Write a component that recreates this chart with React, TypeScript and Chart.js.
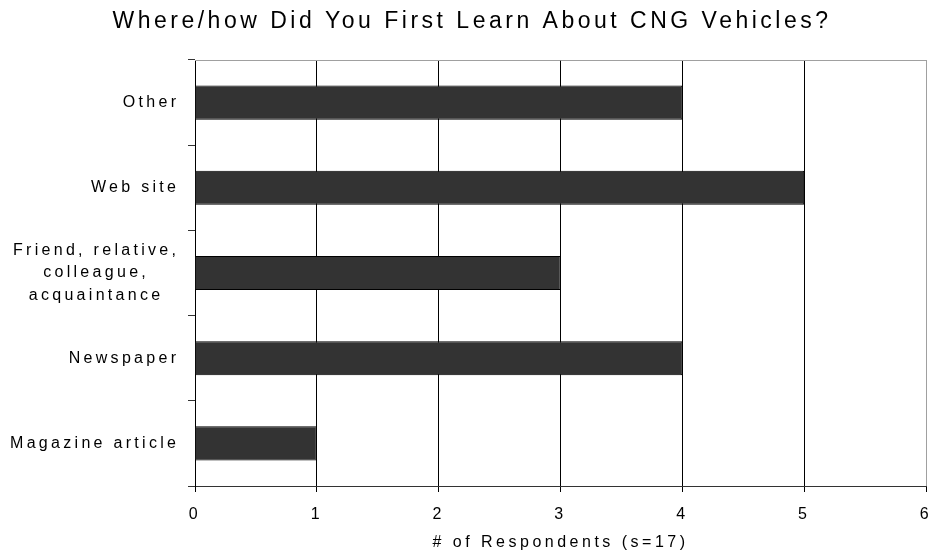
import React, { useEffect, useRef } from 'react';
import { Chart, registerables } from 'chart.js';

Chart.register(...registerables);

const FONT = '"Liberation Sans", Arial, Helvetica, sans-serif';

const chartTitle = 'Where/how Did You First Learn About CNG Vehicles?';
const axisTitle = '# of Respondents (s=17)';
const categories: (string | string[])[] = [
  'Other',
  'Web site',
  ['Friend, relative,', 'colleague,', 'acquaintance'],
  'Newspaper',
  'Magazine article',
];
const respondents = [4, 5, 3, 4, 1];
const xMin = 0;
const xMax = 6;
const xStep = 1;

const spacingPlugin = {
  id: 'letterSpacing',
  beforeLayout(chart: any) {
    chart.ctx.letterSpacing = '3.5px';
  },
  beforeDraw(chart: any) {
    chart.ctx.letterSpacing = '3.5px';
  },
};

const frameAndLabelsPlugin = {
  id: 'frameAndLabels',
  afterDraw(chart: any) {
    const ctx = chart.ctx as CanvasRenderingContext2D;
    const area = chart.chartArea;
    const yScale = chart.scales.y;
    ctx.save();
    // top border of plot area
    ctx.strokeStyle = '#a0a0a0';
    ctx.lineWidth = 1;
    ctx.beginPath();
    ctx.moveTo(area.left, Math.round(area.top) + 0.5);
    ctx.lineTo(area.right, Math.round(area.top) + 0.5);
    ctx.stroke();

    // category labels
    const sp = 3.3;
    ctx.font = `16px ${FONT}`;
    ctx.fillStyle = '#000';
    ctx.textBaseline = 'middle';
    ctx.textAlign = 'left';
    const right = area.left - 19;
    const lh = 22.5;
    categories.forEach((lab, i) => {
      const lines = Array.isArray(lab) ? lab : [lab];
      const cy = yScale.getPixelForTick(i);
      (ctx as any).letterSpacing = '0px';
      const widths = lines.map((l) => ctx.measureText(l).width + sp * (l.length - 1));
      const maxW = Math.max(...widths);
      (ctx as any).letterSpacing = sp + 'px';
      lines.forEach((l, j) => {
        const x = right - maxW + (maxW - widths[j]) / 2;
        const yy = cy + (j - (lines.length - 1) / 2) * lh;
        ctx.fillText(l, x, yy);
      });
    });
    (ctx as any).letterSpacing = '0px';
    ctx.restore();
  },
};

export default function App() {
  const ref = useRef<HTMLCanvasElement | null>(null);

  useEffect(() => {
    document.body.style.margin = '0';
    document.body.style.overflow = 'hidden';
    const canvas = ref.current;
    if (!canvas) return;
    const chart = new Chart(canvas, {
      type: 'bar',
      data: {
        labels: categories as any,
        datasets: [
          {
            data: respondents,
            backgroundColor: '#333333',
            borderColor: '#000000',
            borderWidth: 1,
            categoryPercentage: 1,
            barPercentage: 0.4,
          },
        ],
      },
      options: {
        indexAxis: 'y',
        animation: false,
        responsive: false,
        maintainAspectRatio: false,
        layout: { padding: { left: 12, right: 0, top: 0, bottom: 0 } },
        plugins: {
          legend: { display: false },
          tooltip: { enabled: false },
          title: {
            display: true,
            text: chartTitle,
            color: '#000',
            font: { family: FONT, size: 23, weight: 'normal', lineHeight: 1.2 },
            padding: { top: 8, bottom: 24.4 },
          },
        },
        scales: {
          x: {
            type: 'linear',
            min: xMin,
            max: xMax,
            ticks: {
              stepSize: xStep,
              color: '#000',
              font: { family: FONT, size: 16 },
              padding: 13,
            },
            grid: {
              color: (c: any) => (c.tick && c.tick.value === xMax ? '#a0a0a0' : '#000000'),
              tickColor: '#000000',
              tickLength: 6,
              lineWidth: 1,
            },
            border: { display: true, color: '#333333', width: 1 },
            title: {
              display: true,
              text: axisTitle,
              color: '#000',
              font: { family: FONT, size: 16, lineHeight: 1.2 },
              padding: { top: 0, bottom: 3 },
            },
            afterFit(scale: any) {
              scale.height = 69;
              scale.paddingLeft = 0;
              scale.paddingRight = 6;
            },
          },
          y: {
            type: 'category',
            ticks: { display: false },
            grid: {
              offset: true,
              drawOnChartArea: false,
              drawTicks: true,
              tickLength: 7,
              color: '#333333',
              tickColor: '#333333',
            },
            border: { display: true, color: '#000000', width: 1 },
            afterFit(scale: any) {
              scale.width = 183;
            },
          },
        },
      },
      plugins: [spacingPlugin, frameAndLabelsPlugin],
    });
    return () => chart.destroy();
  }, []);

  return <canvas ref={ref} width={932} height={555} style={{ display: 'block' }} />;
}
